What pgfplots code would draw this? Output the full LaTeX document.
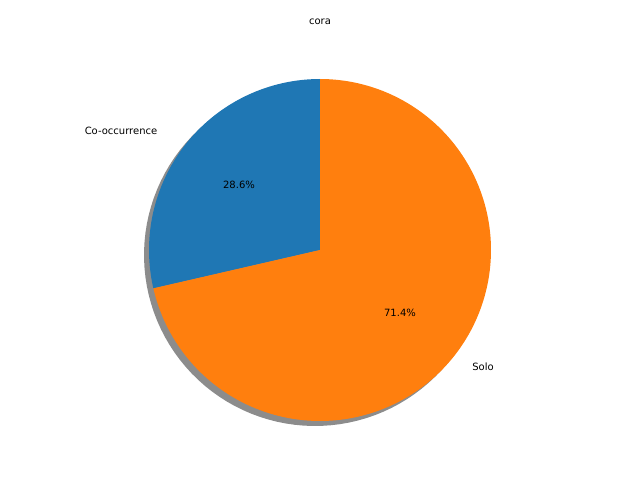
\documentclass[border=0pt]{standalone}
\usepackage{pgfplots}
\pgfplotsset{compat=1.18}
\usepackage{fontspec}
\setmainfont{DejaVu Sans}
\definecolor{mblue}{HTML}{1F77B4}
\definecolor{morange}{HTML}{FF7F0E}
\begin{document}
\begin{tikzpicture}
\def\split{192.96}
\begin{axis}[scale only axis, width=640pt, height=480pt, xmin=0, xmax=640, ymin=0, ymax=480, hide axis, clip=false,
  every node/.style={font=\fontsize{13.9}{16}\selectfont}]
\addplot[draw=none, forget plot] coordinates {(0,0) (640,480)};
\path[use as bounding box] (rel axis cs:0,0) rectangle (rel axis cs:1,1);
% shadow
\addplot[fill=black, fill opacity=0.45, draw=none, domain=0:360, samples=120] ({315+171*cos(x)},{225+171*sin(x)}) -- cycle;
% wedges
\addplot[fill=mblue, draw=none, domain=90:\split, samples=80] ({320+171*cos(x)},{230+171*sin(x)}) -- (axis cs:320,230) -- cycle;
\addplot[fill=morange, draw=none, domain=\split:450, samples=160] ({320+171*cos(x)},{230+171*sin(x)}) -- (axis cs:320,230) -- cycle;
\node at (axis cs:320,458) {cora};
\node at (axis cs:121,349) {Co-occurrence};
\node at (axis cs:239,295) {28.6\%};
\node at (axis cs:400,167) {71.4\%};
\node at (axis cs:483,113) {Solo};
\end{axis}
\end{tikzpicture}
\end{document}
